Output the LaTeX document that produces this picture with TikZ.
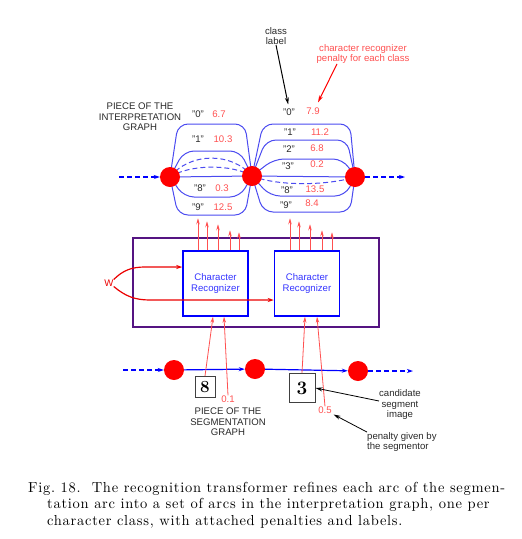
\documentclass[tikz,border=0pt]{standalone}
\usepackage{fontspec}
\setsansfont{Liberation Sans}
\newfontfamily\capfont{lmroman10-regular.otf}[LetterSpace=5]
\usepackage{xcolor}
\definecolor{ArcBlue}{RGB}{75,75,240}
\definecolor{LineBlue}{RGB}{0,0,255}
\definecolor{PenRed}{RGB}{255,80,80}
\definecolor{WRed}{RGB}{235,0,0}
\definecolor{BoxPurple}{RGB}{85,20,130}
\definecolor{LabGray}{RGB}{40,40,40}
\usepackage{tikz}
\usetikzlibrary{arrows.meta}
\usetikzlibrary{backgrounds}
\tikzstyle{Dot}=[circle,fill=red,minimum size=20pt,inner sep=0pt]
\tikzstyle{Arc}=[draw=ArcBlue,line width=1pt,rounded corners=10pt]
\tikzstyle{Dash}=[dash pattern=on 5pt off 3pt]
\tikzstyle{Flow}=[draw=LineBlue,line width=1.2pt,dash pattern=on 5pt off 3pt,
    -{Stealth[length=6pt,width=4pt]}]
\tikzstyle{Seg}=[draw=LineBlue,line width=1.2pt,-{Stealth[length=6pt,width=4pt]}]
\tikzstyle{Label}=[font=\sffamily\fontsize{9.6}{10.5}\selectfont,inner sep=0pt,
    text=LabGray,align=center]
\tikzstyle{Score}=[Label,text=PenRed]
\tikzstyle{Pen}=[draw=PenRed,line width=0.8pt,-{Stealth[length=6pt,width=3.5pt]}]
\tikzstyle{WPen}=[draw=WRed,line width=1.2pt,-{Stealth[length=6pt,width=4pt]}]
\tikzstyle{Pointer}=[draw=black,line width=1pt,-{Stealth[length=7pt,width=4pt]}]
\tikzstyle{Recog}=[draw=LineBlue,line width=1.5pt,minimum width=65pt,
    minimum height=65pt,inner sep=0pt,align=center,text=LineBlue!80,
    font=\sffamily\fontsize{9.6}{11}\selectfont]
\tikzstyle{Frame}=[draw=BoxPurple,line width=2.5pt,minimum width=246pt,
    minimum height=89pt,inner sep=0pt]
\tikzstyle{Image}=[draw=black!75,line width=1pt,inner sep=0pt,
    font=\bfseries\fontsize{17}{17}\selectfont]
\tikzstyle{Caption}=[inner sep=0pt,align=left,
    font=\capfont\fontsize{14.5}{16.5}\selectfont]

\begin{document}
\begin{tikzpicture}[x=1pt,y=-1pt]
        \useasboundingbox (0,0) rectangle (522,539);
        % interpretation graph
        \node[Dot](i1)at(170,177){};
        \node[Dot](i2)at(252,176){};
        \node[Dot](i3)at(355,177){};
        \coordinate(iin)at(119,177);
        \coordinate(iout)at(405,177);
        \draw[Flow](iin)--(i1);
        \draw[Flow](i3)--(iout);
        \begin{scope}[on background layer]
        \draw[Arc](i1.center)--(178,124)--(245,124)--(i2.center);
        \draw[Arc](i1.center)--(184,151)--(240,151)--(i2.center);
        \draw[Arc,Dash](i1.center)..controls(190,152)and(232,152)..(i2.center);
        \draw[Arc,Dash](i1.center)..controls(190,164)and(232,164)..(i2.center);
        \draw[Arc](i1)--(i2);
        \draw[Arc](i1.center)--(184,197)--(240,197)--(i2.center);
        \draw[Arc](i1.center)--(178,215)--(245,215)--(i2.center);
        \draw[Arc](i2.center)--(263,124)--(350,124)--(i3.center);
        \draw[Arc](i2.center)--(266,140)--(347,140)--(i3.center);
        \draw[Arc](i2.center)--(274,159)--(343,159)--(i3.center);
        \draw[Arc](i2)--(i3);
        \draw[Arc,Dash](i2.center)..controls(280,187)and(330,185)..(i3.center);
        \draw[Arc](i2.center)--(270,196)--(345,196)--(i3.center);
        \draw[Arc](i2.center)--(263,212)--(350,212)--(i3.center);
        \end{scope}
        \node[Label](q0l)at(198,114){"0"};
        \node[Score](v0l)at(219,114){6.7};
        \node[Label](q1l)at(198,139){"1"};
        \node[Score](v1l)at(223,139){10.3};
        \node[Label](q8l)at(200,188){"8"};
        \node[Score](v8l)at(222,188){0.3};
        \node[Label](q9l)at(198,207){"9"};
        \node[Score](v9l)at(223,207){12.5};
        \node[Label](q0r)at(289,112){"0"};
        \node[Score](v0r)at(313,111){7.9};
        \node[Label](q1r)at(290,132){"1"};
        \node[Score](v1r)at(320,132){11.2};
        \node[Label](q2r)at(289,149){"2"};
        \node[Score](v2r)at(317,148){6.8};
        \node[Label](q3r)at(288,166){"3"};
        \node[Score](v3r)at(317,164){0.2};
        \node[Label](q8r)at(287,190){"8"};
        \node[Score](v8r)at(315,189){13.5};
        \node[Label](q9r)at(286,205){"9"};
        \node[Score](v9r)at(312,203){8.4};
        \node[Label](ititle)at(140,117){PIECE OF THE\\INTERPRETATION\\GRAPH};
        \node[Label](cl)at(276,36){class\\label};
        \node[Score](rl)at(363,54){character recognizer\\penalty for each class};
        \draw[Pointer,shorten >=4pt](cl.south)--(q0r.north);
        \draw[draw=red,line width=1pt,-{Stealth[length=7pt,width=4pt]}]
            (rl.south-|337,0)--([xshift=5pt,yshift=5pt]v0r.north);
        % transformer
        \node[Frame](frame)at(256,282.5){};
        \node[Recog](lbox)at(215.5,283.5){Character\\Recognizer};
        \node[Recog](rbox)at(307,283.5){Character\\Recognizer};
        \draw[Pen](lbox.north-|198,0)--++(0,-32);
        \draw[Pen](lbox.north-|207,0)--++(0,-29);
        \draw[Pen](lbox.north-|218,0)--++(0,-26);
        \draw[Pen](lbox.north-|230,0)--++(0,-20);
        \draw[Pen](lbox.north-|239,0)--++(0,-18);
        \draw[Pen](rbox.north-|290,0)--++(0,-32);
        \draw[Pen](rbox.north-|299,0)--++(0,-29);
        \draw[Pen](rbox.north-|310,0)--++(0,-26);
        \draw[Pen](rbox.north-|322,0)--++(0,-20);
        \draw[Pen](rbox.north-|332,0)--++(0,-18);
        \node[Score,text=WRed](w)at(109,283){W};
        \draw[WPen](w.north east)to[out=45,in=180](145,267)--(lbox.west|-0,267);
        \draw[WPen](w.south east)to[out=-40,in=180](150,300)--(rbox.west|-0,300);
        % segmentation graph
        \node[Dot](s1)at(174,370){};
        \node[Dot](s2)at(255,369){};
        \node[Dot](s3)at(358,371){};
        \coordinate(sin)at(123,370);
        \coordinate(sout)at(413,371);
        \draw[Flow](sin)--(s1);
        \draw[Seg](s1)--(s2);
        \draw[Seg](s2)--(s3);
        \draw[Flow](s3)--(sout);
        \node[Image,minimum width=20pt,minimum height=21pt](img8)at(205,387){8};
        \node[Image,minimum width=26pt,minimum height=29pt,
            font=\bfseries\fontsize{19}{19}\selectfont](img3)at(302,388){3};
        \node[Score](p1)at(228,399){0.1};
        \node[Score](p5)at(325,410){0.5};
        \draw[Pen](img8.north)--(lbox.south-|213,0);
        \draw[Pen](p1.north)--(lbox.south-|224,0);
        \draw[Pen](img3.north)--(rbox.south-|305,0);
        \draw[Pen](p5.north)--(rbox.south-|317,0);
        \node[Label](stitle)at(228,422){PIECE OF THE\\SEGMENTATION\\GRAPH};
        \node[Label](cand)at(400,405){candidate\\segment\\image};
        \node[Label,align=left,anchor=west](pg)at(367,442){penalty given by\\the segmentor};
        \draw[Pointer,line width=0.8pt]([yshift=4pt]cand.west)--(img3.east);
        \draw[Pointer,line width=0.8pt,shorten >=2pt](pg.north west)--(p5.south east);
        % caption
        \node[Caption,anchor=north west](cap)at(28,482){Fig.~18.\ \ The recognition
            transformer refines each arc of the segmen-\\
            \hspace*{19pt}tation arc into a set of arcs in the interpretation graph, one per\\
            \hspace*{19pt}character class, with attached penalties and labels.};
    \end{tikzpicture}
\end{document}
